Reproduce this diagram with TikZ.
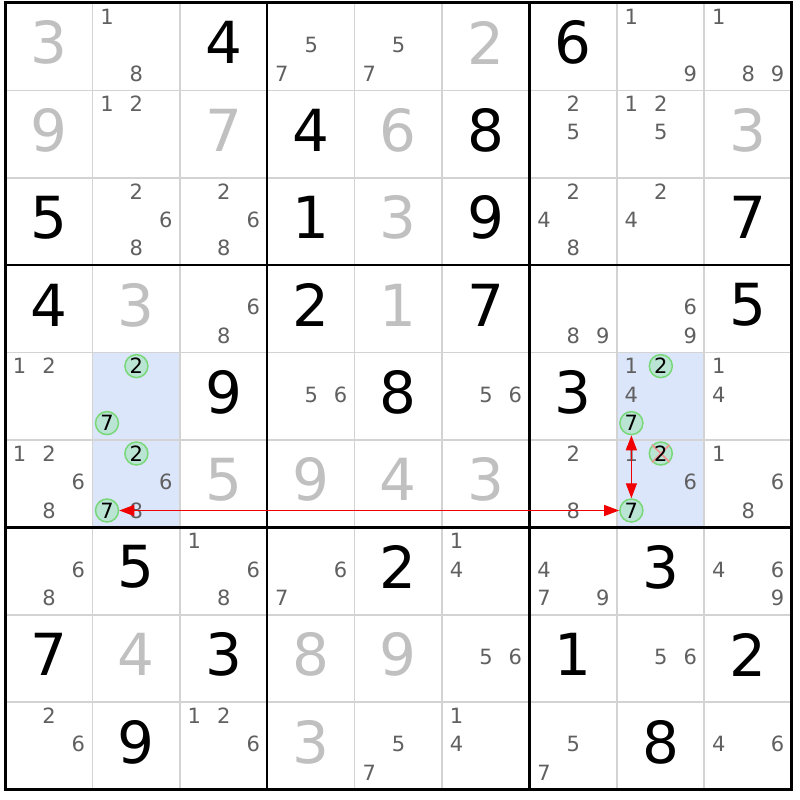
\documentclass[tikz,border=0pt]{standalone}
\usepackage{fontspec}
\setmainfont{DejaVu Sans}
\usetikzlibrary{arrows.meta}
\definecolor{solvedgray}{RGB}{192,192,192}
\definecolor{candgray}{RGB}{96,96,96}
\definecolor{thingray}{RGB}{211,211,211}
\definecolor{hlblue}{RGB}{220,230,250}
\definecolor{ringfill}{RGB}{186,228,212}
\definecolor{ringgreen}{RGB}{120,216,120}
\definecolor{crosspink}{RGB}{240,150,150}
\definecolor{linkred}{RGB}{240,0,0}
\tikzset{
  bigd/.style={font=\fontsize{58}{58}\selectfont, inner sep=0pt, anchor=center},
  givend/.style={bigd, text=black},
  solvedd/.style={bigd, text=solvedgray},
  candd/.style={font=\fontsize{21}{21}\selectfont, inner sep=0pt, text=candgray},
  ring/.style={circle, draw=ringgreen, fill=ringfill, line width=1.5pt, minimum size=23pt, inner sep=0pt, font=\fontsize{21}{21}\selectfont, text=black},
  thinline/.style={draw=thingray, line width=1.5pt},
  boxline/.style={draw=black, line width=2.2pt},
  outerline/.style={draw=black, line width=3pt},
  link/.style={draw=linkred, line width=1.3pt, {Triangle[length=15pt,width=11pt]}-{Triangle[length=15pt,width=11pt]}},
  crossline/.style={draw=crosspink, line width=1.8pt}
}
\newcommand\Gv[3]{\node[givend] (v#1#2) at ({5+87.4*(#2+0.5)},{3+87.4*(#1+0.5)-4}) {#3};}
\newcommand\Sv[3]{\node[solvedd] (v#1#2) at ({5+87.4*(#2+0.5)},{3+87.4*(#1+0.5)-4}) {#3};}
\newcommand\Cd[3]{%
  \pgfmathsetmacro\cpx{5+87.4*#2+14.6+29.4*mod(#3-1,3)}%
  \pgfmathsetmacro\cpy{3+87.4*#1+13.5+28.5*floor((#3-1)/3)}%
  \node[candd] (k#1#2#3) at (\cpx,\cpy) {#3};}
\newcommand\Cl[3]{\foreach \dd in {#3}{\Cd{#1}{#2}{\dd}}}
\newcommand\Rg[4]{%
  \pgfmathsetmacro\cpx{5+87.4*#2+14.6+29.4*mod(#3-1,3)}%
  \pgfmathsetmacro\cpy{3+87.4*#1+13.5+28.5*floor((#3-1)/3)}%
  \node[ring] (o#1#2#3) at (\cpx,\cpy) {#4};}
\begin{document}
\begin{tikzpicture}[x=1pt,y=-1pt]
\useasboundingbox (0,0) rectangle (800,800);
\fill[white] (0,0) rectangle (800,800);
% highlighted cells
\foreach \r/\c in {4/1,5/1,4/7,5/7}
  \fill[hlblue] ({5+87.4*\c},{3+87.4*\r}) rectangle ++(87.4,87.4);
% thin lines
\foreach \i in {1,2,4,5,7,8} {
  \draw[thinline] ({5+87.4*\i},3) -- ({5+87.4*\i},789.6);
  \draw[thinline] (5,{3+87.4*\i}) -- (791.6,{3+87.4*\i});
}
\foreach \i in {3,6} {
  \draw[boxline] ({5+87.4*\i},3) -- ({5+87.4*\i},789.6);
  \draw[boxline] (5,{3+87.4*\i}) -- (791.6,{3+87.4*\i});
}
\draw[outerline] (5,3) rectangle (791.6,789.6);
% row 0
\Sv{0}{0}{3} \Cl{0}{1}{1,8} \Gv{0}{2}{4} \Cl{0}{3}{5,7} \Cl{0}{4}{5,7}
\Sv{0}{5}{2} \Gv{0}{6}{6} \Cl{0}{7}{1,9} \Cl{0}{8}{1,8,9}
% row 1
\Sv{1}{0}{9} \Cl{1}{1}{1,2} \Sv{1}{2}{7} \Gv{1}{3}{4} \Sv{1}{4}{6}
\Gv{1}{5}{8} \Cl{1}{6}{2,5} \Cl{1}{7}{1,2,5} \Sv{1}{8}{3}
% row 2
\Gv{2}{0}{5} \Cl{2}{1}{2,6,8} \Cl{2}{2}{2,6,8} \Gv{2}{3}{1} \Sv{2}{4}{3}
\Gv{2}{5}{9} \Cl{2}{6}{2,4,8} \Cl{2}{7}{2,4} \Gv{2}{8}{7}
% row 3
\Gv{3}{0}{4} \Sv{3}{1}{3} \Cl{3}{2}{6,8} \Gv{3}{3}{2} \Sv{3}{4}{1}
\Gv{3}{5}{7} \Cl{3}{6}{8,9} \Cl{3}{7}{6,9} \Gv{3}{8}{5}
% row 4
\Cl{4}{0}{1,2} \Rg{4}{1}{2}{2} \Rg{4}{1}{7}{7} \Gv{4}{2}{9} \Cl{4}{3}{5,6}
\Gv{4}{4}{8} \Cl{4}{5}{5,6} \Gv{4}{6}{3}
\Cl{4}{7}{1,4} \Rg{4}{7}{2}{2} \Rg{4}{7}{7}{7} \Cl{4}{8}{1,4}
% row 5
\Cl{5}{0}{1,2,6,8} \Cl{5}{1}{6,8} \Rg{5}{1}{2}{2} \Rg{5}{1}{7}{7}
\Sv{5}{2}{5} \Sv{5}{3}{9} \Sv{5}{4}{4} \Sv{5}{5}{3} \Cl{5}{6}{2,8}
\Cl{5}{7}{1,6} \Rg{5}{7}{2}{} \Rg{5}{7}{7}{7} \Cl{5}{8}{1,6,8}
\draw[crossline] (o572.north west) -- (o572.south east);
\draw[crossline] (o572.north east) -- (o572.south west);
\node[font=\fontsize{21}{21}\selectfont, inner sep=0pt, text=black] (x572) at (o572) {2};
% row 6
\Cl{6}{0}{6,8} \Gv{6}{1}{5} \Cl{6}{2}{1,6,8} \Cl{6}{3}{6,7} \Gv{6}{4}{2}
\Cl{6}{5}{1,4} \Cl{6}{6}{4,7,9} \Gv{6}{7}{3} \Cl{6}{8}{4,6,9}
% row 7
\Gv{7}{0}{7} \Sv{7}{1}{4} \Gv{7}{2}{3} \Sv{7}{3}{8} \Sv{7}{4}{9}
\Cl{7}{5}{5,6} \Gv{7}{6}{1} \Cl{7}{7}{5,6} \Gv{7}{8}{2}
% row 8
\Cl{8}{0}{2,6} \Gv{8}{1}{9} \Cl{8}{2}{1,2,6} \Sv{8}{3}{3} \Cl{8}{4}{5,7}
\Cl{8}{5}{1,4} \Cl{8}{6}{5,7} \Gv{8}{7}{8} \Cl{8}{8}{4,6}
% links
\draw[link] (o517) -- (o577);
\draw[link] (o477) -- (o577);
\end{tikzpicture}
\end{document}
